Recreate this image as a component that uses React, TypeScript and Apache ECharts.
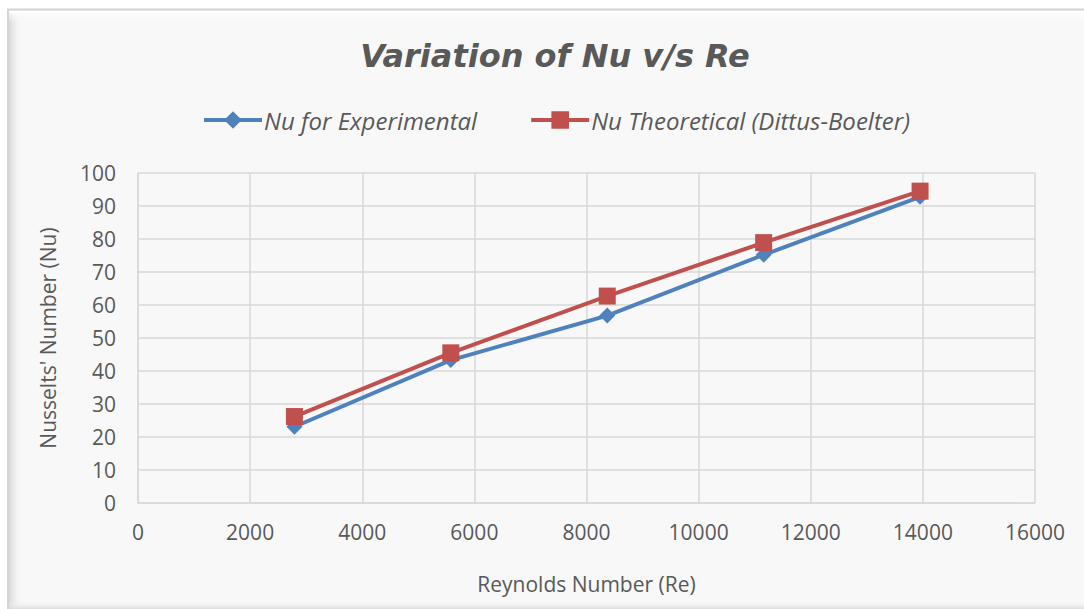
import React, { useEffect, useRef } from "react";
import * as echarts from "echarts";

const reynolds = [2790, 5580, 8370, 11160, 13950];
const nuExperimental = [23.1, 43.3, 56.8, 75.2, 92.8];
const nuTheoretical = [26.2, 45.5, 62.7, 78.9, 94.5];
const titleText = "Variation of Nu v/s Re";
const seriesNames = ["Nu for Experimental", "Nu Theoretical (Dittus-Boelter)"];
const xAxisName = "Reynolds Number (Re)";
const yAxisName = "Nusselts' Number (Nu)";

const FONT = "'Open Sans', 'Liberation Sans', sans-serif";
const TXT = "#595959";

export default function App() {
  const ref = useRef<HTMLDivElement>(null);
  useEffect(() => {
    if (!ref.current) return;
    const chart = echarts.init(ref.current, undefined, { renderer: "svg" });
    const pair = (xs: number[], ys: number[]) => xs.map((x, i) => [x, ys[i]]);
    chart.setOption({
      animation: false,
      backgroundColor: "#ffffff",
      graphic: [
        {
          type: "rect",
          z: -10,
          silent: true,
          shape: { x: 8, y: 9.5, width: 1090, height: 610 },
          style: { fill: "#f8f8f8", stroke: "#d4d4d4", lineWidth: 2 },
        },
        {
          type: "rect",
          z: -9,
          silent: true,
          shape: { x: 9, y: 11, width: 14, height: 598 },
          style: {
            fill: new echarts.graphic.LinearGradient(0, 0, 1, 0, [
              { offset: 0, color: "#d8d8d8" },
              { offset: 1, color: "rgba(248,248,248,0)" },
            ]),
          },
        },
        {
          type: "rect",
          z: -9,
          silent: true,
          shape: { x: 9, y: 11, width: 1075, height: 12 },
          style: {
            fill: new echarts.graphic.LinearGradient(0, 0, 0, 1, [
              { offset: 0, color: "#ffffff" },
              { offset: 1, color: "rgba(248,248,248,0)" },
            ]),
          },
        },
        {
          type: "rect",
          z: -9,
          silent: true,
          shape: { x: 9, y: 601, width: 1075, height: 8 },
          style: {
            fill: new echarts.graphic.LinearGradient(0, 0, 0, 1, [
              { offset: 0, color: "rgba(248,248,248,0)" },
              { offset: 1, color: "#dcdcdc" },
            ]),
          },
        },
      ],
      title: {
        text: titleText,
        left: 550,
        textAlign: "center",
        top: 35,
        textStyle: {
          fontFamily: "'DejaVu Sans', sans-serif",
          fontSize: 32,
          fontWeight: "bold",
          fontStyle: "italic",
          color: TXT,
        },
      },
      legend: {
        top: 103,
        left: 197,
        itemWidth: 58,
        itemHeight: 22,
        itemGap: 52,
        lineStyle: { width: 4 },
        textStyle: {
          fontFamily: FONT,
          fontSize: 24,
          fontStyle: "italic",
          color: TXT,
          padding: [0, 0, 0, -3],
        },
        data: [seriesNames[0], seriesNames[1]],
      },
      grid: { left: 138, right: 49, top: 173, bottom: 106, containLabel: false },
      xAxis: {
        type: "value",
        min: 0,
        max: 16000,
        interval: 2000,
        name: xAxisName,
        nameLocation: "middle",
        nameGap: 70,
        nameTextStyle: { fontFamily: FONT, fontSize: 21, color: TXT },
        axisLine: { show: true, lineStyle: { color: "#d9d9d9", width: 1.5 } },
        axisTick: { show: false },
        splitLine: { show: true, lineStyle: { color: "#d9d9d9", width: 1.5 } },
        axisLabel: {
          fontFamily: FONT,
          fontSize: 21,
          color: TXT,
          margin: 18,
          formatter: (v: number) => String(v),
        },
      },
      yAxis: {
        type: "value",
        min: 0,
        max: 100,
        interval: 10,
        name: yAxisName,
        nameLocation: "middle",
        nameGap: 80,
        nameTextStyle: { fontFamily: FONT, fontSize: 21, color: TXT },
        axisLine: { show: true, lineStyle: { color: "#d9d9d9", width: 1.5 } },
        axisTick: { show: false },
        splitLine: { show: true, lineStyle: { color: "#d9d9d9", width: 1.5 } },
        axisLabel: { fontFamily: FONT, fontSize: 21, color: TXT, margin: 22 },
      },
      series: [
        {
          name: seriesNames[0],
          type: "line",
          data: pair(reynolds, nuExperimental),
          symbol: "diamond",
          symbolSize: 16,
          color: "#4f81bd",
          lineStyle: { width: 4, color: "#4f81bd" },
          itemStyle: { color: "#4f81bd" },
          z: 2,
        },
        {
          name: seriesNames[1],
          type: "line",
          data: pair(reynolds, nuTheoretical),
          symbol: "rect",
          symbolSize: 17,
          color: "#c0504d",
          lineStyle: { width: 4, color: "#c0504d" },
          itemStyle: { color: "#c0504d" },
          z: 3,
        },
      ],
    });
    return () => chart.dispose();
  }, []);
  return (
    <div
      ref={ref}
      style={{ position: "fixed", left: 0, top: 0, width: 1084, height: 609 }}
    />
  );
}
